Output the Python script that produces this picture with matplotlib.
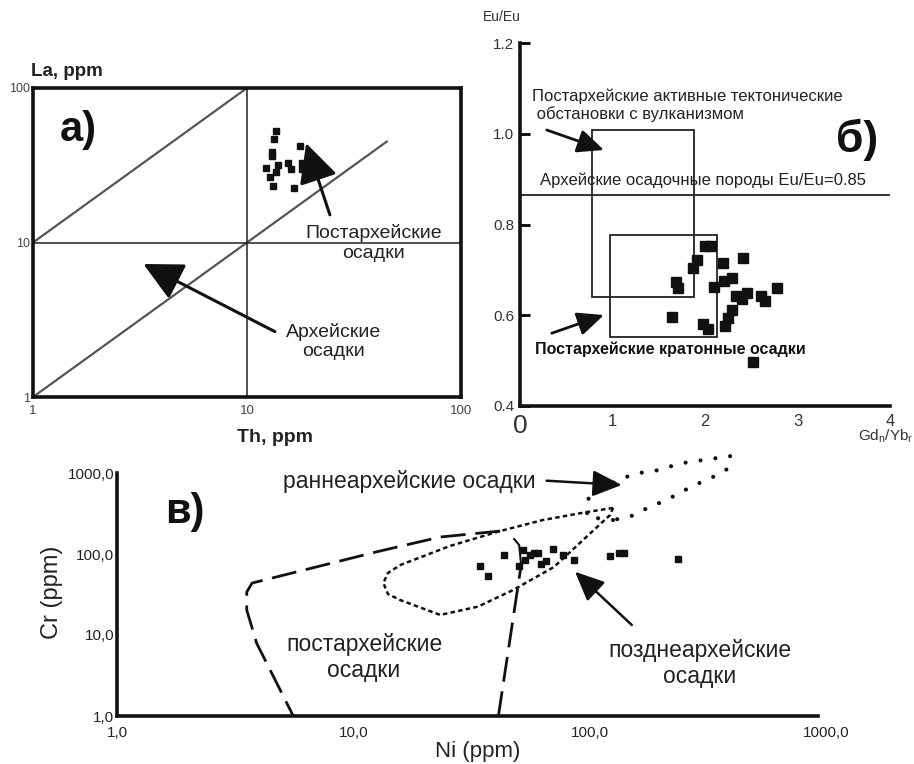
import matplotlib.pyplot as plt
from matplotlib.patches import Rectangle
from matplotlib.ticker import NullLocator

W, H = 914, 764
plt.rcParams['font.family'] = ['Liberation Sans', 'DejaVu Sans']
plt.rcParams['mathtext.default'] = 'regular'

# a) La vs Th
a_th = [13.7, 13.4, 13.05, 13.05, 17.7, 12.3, 14.0, 13.6, 12.8, 13.2, 15.6, 16.0, 18.0, 18.0, 16.5]
a_la = [52.9, 46.8, 38.4, 36.3, 42.3, 30.5, 31.7, 28.7, 26.7, 23.2, 32.9, 29.8, 32.6, 29.8, 22.6]
a_ratio_hi = [1, 10]      # La/Th = 10
a_ratio_lo = [1, 45]      # La/Th = 1
a_ticks = [1, 10, 100]

# б) Eu/Eu* vs Gdn/Ybn
b_x = [2.00, 2.07, 1.91, 1.87, 2.19, 2.41, 1.69, 1.71, 2.29, 2.20, 2.10, 2.34,
       2.45, 2.40, 2.60, 2.65, 2.78, 1.64, 1.98, 2.03, 2.29, 2.25, 2.22, 2.52]
b_y = [0.753, 0.753, 0.722, 0.705, 0.716, 0.725, 0.672, 0.659, 0.683, 0.676, 0.661, 0.642,
       0.648, 0.635, 0.642, 0.631, 0.660, 0.596, 0.580, 0.569, 0.611, 0.593, 0.576, 0.497]
active_x = [0.78, 1.885]
active_y = [0.639, 1.009]
craton_x = [0.973, 2.126]
craton_y = [0.551, 0.777]
archean_eu = 0.865
b_xticks = [0, 1, 2, 3, 4]
b_yticks = [0.4, 0.6, 0.8, 1.0, 1.2]

# в) Cr vs Ni
c_ni = [34.4, 37.3, 43.4, 50.0, 52.4, 53.3, 56.0, 57.9, 60.3, 62.3, 65.1, 69.7, 76.8, 85.7, 121.6, 133.1, 139.2, 236.7]
c_cr = [71.1, 53.5, 97.2, 70.1, 110.5, 84.3, 97.2, 102, 103.8, 76.3, 82.0, 114.3, 97.2, 84.3, 95.8, 103.8, 103.8, 86.8]
post_ni = [41.8, 23.3, 12.6, 3.73, 3.54, 3.54, 3.90, 5.57]
post_cr = [192, 162, 106.7, 43.8, 34.0, 20.3, 7.9, 1.0]
post_r_ni = [41.1, 51.3]
post_r_cr = [1.0, 73]
hook_ni = [51.3, 50.3, 47.9]
hook_cr = [73, 129, 153]
late_ni = [125.6, 97.5, 63.5, 41.8, 25.7, 15.8, 14.0, 13.4, 14.0, 15.8, 23.3, 33.7, 47.4, 70.6, 93.8, 122, 125.6]
late_cr = [370, 330, 263, 192, 126, 73.1, 58.3, 43.8, 32.1, 27.0, 17.7, 22.4, 35.9, 69.1, 149, 303, 370]
early_ni = [125.6, 97.5, 97.5, 108.5, 138.5, 160.2, 185.5, 214.7, 253.4, 293.3, 339.4, 392.8,
            389, 339.4, 293.3, 253.4, 223.2, 192.8, 168.2, 148.3, 125.6]
early_cr = [263, 286, 464, 617, 867, 1000, 1044, 1186, 1341, 1427, 1518, 1622,
            1153, 918, 759, 617, 505, 414, 349, 289, 263]
c_ticks = [1, 10, 100, 1000]
c_labels = ['1,0', '10,0', '100,0', '1000,0']


def box(l, t, r, b):
    return [l / W, 1 - b / H, (r - l) / W, (b - t) / H]


def fpos(x, y):
    return (x / W, 1 - y / H)


fig = plt.figure(figsize=(W / 100, H / 100), dpi=100)

# ---------- a) ----------
ax1 = fig.add_axes(box(33, 88, 461, 397))
ax1.set_xscale('log')
ax1.set_yscale('log')
ax1.set_xlim(1, 100)
ax1.set_ylim(1, 100)
ax1.plot(a_ratio_hi, [v * 10 for v in a_ratio_hi], color='#555', lw=1.6)
ax1.plot(a_ratio_lo, a_ratio_lo, color='#555', lw=1.6)
ax1.axhline(10, color='#222', lw=1.1)
ax1.axvline(10, color='#222', lw=1.1)
ax1.plot(a_th, a_la, 's', color='#111', ms=4)
for s in ax1.spines.values():
    s.set_linewidth(2.6)
    s.set_color('#111')
ax1.set_xticks(a_ticks)
ax1.set_xticklabels([str(v) for v in a_ticks])
ax1.set_yticks(a_ticks)
ax1.set_yticklabels([str(v) for v in a_ticks])
ax1.xaxis.set_minor_locator(NullLocator())
ax1.yaxis.set_minor_locator(NullLocator())
ax1.tick_params(axis='x', length=0, pad=6, labelsize=9.5, labelcolor='#444')
ax1.tick_params(axis='y', length=0, pad=2, labelsize=9, labelcolor='#444')
ax1.text(0.105, 0.865, 'а)', transform=ax1.transAxes, fontsize=30, fontweight='bold',
         ha='center', va='center', color='#111')
arrow_big = dict(arrowstyle='-|>,head_length=1.1,head_width=0.55', mutation_scale=22,
                 lw=2.2, color='#111', shrinkA=0, shrinkB=0)
ax1.annotate('', xy=(18.9, 43.9), xytext=(24.4, 15.1), arrowprops=arrow_big)
ax1.annotate('', xy=(3.28, 7.26), xytext=(13.5, 2.65), arrowprops=arrow_big)
ax1.text(39.2, 9.93, 'Постархейские\nосадки', fontsize=14, ha='center', va='center',
         linespacing=1.2, color='#222')
ax1.text(25.4, 2.28, 'Архейские\nосадки', fontsize=14, ha='center', va='center',
         linespacing=1.2, color='#222')
fig.text(*fpos(31, 72), 'La, ppm', fontsize=13.5, fontweight='bold', ha='left', va='center', color='#222')
fig.text(*fpos(275, 437), 'Th, ppm', fontsize=14, fontweight='bold', ha='center', va='center', color='#222')

# ---------- б) ----------
ax2 = fig.add_axes(box(520, 43.3, 890, 405.7))
ax2.set_xlim(0, 4)
ax2.set_ylim(0.4, 1.2)
for side in ['top', 'right']:
    ax2.spines[side].set_visible(False)
for side in ['left', 'bottom']:
    ax2.spines[side].set_linewidth(2.6)
    ax2.spines[side].set_color('#111')
ax2.set_xticks(b_xticks)
ax2.set_xticklabels([str(v) for v in b_xticks])
ax2.set_yticks(b_yticks)
ax2.set_yticklabels(['%.1f' % v for v in b_yticks])
ax2.tick_params(axis='x', length=0, pad=6, labelsize=12, labelcolor='#333')
ax2.tick_params(axis='y', direction='in', length=7, width=2, pad=4, labelsize=11, labelcolor='#333')
ax2.get_xticklabels()[0].set_fontsize(19)
ax2.add_patch(Rectangle((active_x[0], active_y[0]), active_x[1] - active_x[0], active_y[1] - active_y[0],
                        fill=False, lw=1.3, ec='#222'))
ax2.add_patch(Rectangle((craton_x[0], craton_y[0]), craton_x[1] - craton_x[0], craton_y[1] - craton_y[0],
                        fill=False, lw=1.3, ec='#222'))
ax2.axhline(archean_eu, color='#222', lw=1.3)
ax2.plot(b_x, b_y, 's', color='#111', ms=6.5)
arrow_mid = dict(arrowstyle='-|>,head_length=0.9,head_width=0.4', mutation_scale=18,
                 lw=2, color='#111', shrinkA=0, shrinkB=0)
ax2.annotate('', xy=(0.908, 0.9645), xytext=(0.289, 1.0086), arrowprops=arrow_mid)
ax2.annotate('', xy=(0.908, 0.6002), xytext=(0.343, 0.56), arrowprops=arrow_mid)
ax2.text(0.126, 1.0627, 'Постархейские активные тектонические\n обстановки с вулканизмом',
         fontsize=12, ha='left', va='center', linespacing=1.15, color='#222')
ax2.text(0.216, 0.898, 'Архейские осадочные породы Eu/Eu=0.85', fontsize=12,
         ha='left', va='center', color='#222')
ax2.text(0.162, 0.5245, 'Постархейские кратонные осадки', fontsize=11.5, fontweight='bold',
         ha='left', va='center', color='#111')
ax2.text(3.64, 0.9865, 'б)', fontsize=32, fontweight='bold', ha='center', va='center', color='#111')
fig.text(*fpos(483, 17), 'Eu/Eu', fontsize=10, ha='left', va='center', color='#333')
fig.text(*fpos(913, 436), 'Gd$_n$/Yb$_r$', fontsize=11, ha='right', va='center', color='#333')

# ---------- в) ----------
ax3 = fig.add_axes(box(117, 473, 826, 716))
ax3.set_xscale('log')
ax3.set_yscale('log')
ax3.set_xlim(1, 1000)
ax3.set_ylim(1, 1000)
for side in ['top', 'right']:
    ax3.spines[side].set_visible(False)
for side in ['left', 'bottom']:
    ax3.spines[side].set_linewidth(2.6)
    ax3.spines[side].set_color('#111')
ax3.spines['bottom'].set_bounds(1, 926)
ax3.set_xticks(c_ticks)
ax3.set_xticklabels(c_labels)
ax3.set_yticks(c_ticks)
ax3.set_yticklabels(c_labels)
ax3.xaxis.set_minor_locator(NullLocator())
ax3.yaxis.set_minor_locator(NullLocator())
ax3.tick_params(axis='x', length=0, pad=7, labelsize=11, labelcolor='#222')
ax3.tick_params(axis='y', length=0, pad=2, labelsize=11, labelcolor='#222')

ax3.plot(post_ni, post_cr, color='#111', lw=2, linestyle=(0, (9, 3.5)), clip_on=False)
ax3.plot(post_r_ni, post_r_cr, color='#111', lw=2, linestyle=(0, (9, 3.5)), clip_on=False)
ax3.plot(hook_ni, hook_cr, color='#111', lw=1.5, clip_on=False)
ax3.plot(late_ni, late_cr, color='#111', lw=1.8, linestyle=(0, (1.8, 1.3)), clip_on=False)
ax3.plot(early_ni, early_cr, color='#111', lw=3, linestyle=(0, (0.01, 3.6)),
         dash_capstyle='round', clip_on=False)
ax3.plot(c_ni, c_cr, 's', color='#111', ms=4.8)

arrow_sm = dict(arrowstyle='-|>,head_length=1.0,head_width=0.45', mutation_scale=18,
                lw=1.8, color='#111', shrinkA=0, shrinkB=0)
ax3.annotate('', xy=(136.7, 711), xytext=(65.8, 803), arrowprops=arrow_sm)
ax3.annotate('', xy=(86.7, 60.4), xytext=(150.7, 13.3), arrowprops=arrow_sm)
ax3.text(5.06, 781, 'раннеархейские осадки', fontsize=16.5, ha='left', va='center', color='#222')
ax3.text(1.94, 333, 'в)', fontsize=30, fontweight='bold', ha='center', va='center', color='#111')
ax3.text(11.1, 5.28, 'постархейские\nосадки', fontsize=16.5, ha='center', va='center',
         linespacing=1.15, color='#222')
ax3.text(291.9, 4.45, 'позднеархейские\nосадки', fontsize=16.5, ha='center', va='center',
         linespacing=1.15, color='#222')
fig.text(*fpos(52, 592), 'Cr (ppm)', fontsize=17, rotation=90, ha='center', va='center', color='#222')
fig.text(*fpos(478, 751), 'Ni (ppm)', fontsize=16, ha='center', va='center', color='#222')

fig.savefig('out.png', dpi=100)
